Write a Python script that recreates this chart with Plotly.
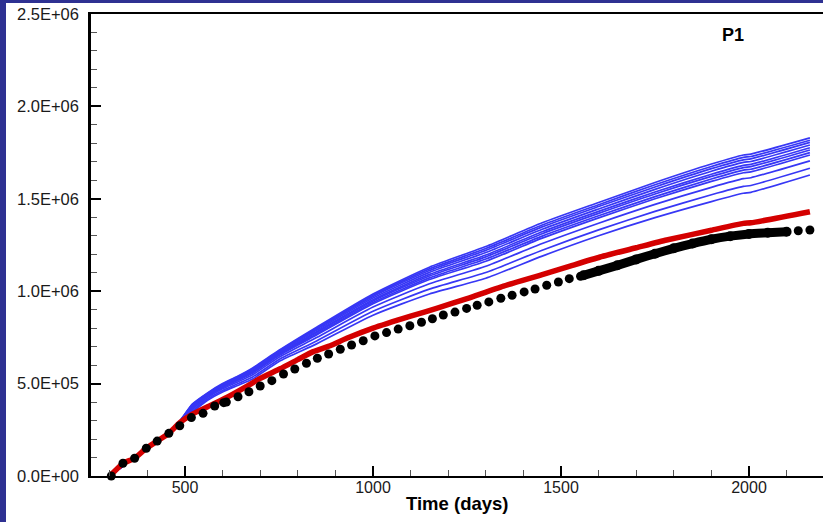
import plotly.graph_objects as go

# ---------------- data (values in thousands) ----------------
SCALE = 1000

obs_days = [304, 335, 366, 397, 426, 457, 486, 517, 548, 579, 603, 610, 641, 670, 700,
            731, 762, 792, 823, 852, 882, 913, 943, 974, 1005, 1036, 1067, 1098, 1129,
            1158, 1187, 1218, 1249, 1277, 1308, 1340, 1370, 1402, 1431, 1462, 1493,
            1522, 1552, 2131, 2162]
obs_vals = [0, 69, 96, 150, 189, 231, 272, 316, 339, 379, 397, 400, 429, 456, 487,
            516, 552, 579, 610, 637, 660, 686, 709, 732, 758, 776, 795, 813, 832,
            851, 871, 887, 907, 924, 942, 962, 978, 996, 1012, 1032, 1050,
            1068, 1081, 1327, 1331]

dense_days = [1560, 1600, 1650, 1700, 1750, 1800, 1850, 1900, 1950, 2000, 2050, 2100]
dense_vals = [1086, 1110, 1140, 1172, 1203, 1232, 1258, 1281, 1298, 1310, 1316, 1322]

red_days = [300, 335, 366, 397, 426, 457, 487, 520, 560, 611, 664, 700, 753, 800, 841,
            886, 930, 1000, 1100, 1169, 1250, 1347, 1450, 1524, 1604, 1700, 1781, 1900,
            1985, 2005, 2162]
red_vals = [0, 68, 96, 150, 189, 231, 290, 335, 375, 425, 485, 528, 580, 630, 673,
            705, 745, 800, 865, 907, 960, 1028, 1090, 1136, 1185, 1235, 1277, 1330,
            1367, 1370, 1430]

blue_days = [300, 397, 457, 487, 520, 560, 600, 640, 680, 750, 850, 1000, 1150, 1300,
             1450, 1600, 1750, 1900, 1985, 2005, 2162]
blue_1 = [0, 150, 235, 300, 390, 450, 500, 540, 585, 680, 805, 985, 1130, 1242, 1370, 1480, 1588, 1688, 1737, 1742, 1830]
blue_2 = [0, 150, 235, 299, 387, 447, 497, 537, 581, 676, 799, 978, 1121, 1231, 1358, 1468, 1576, 1675, 1724, 1729, 1817]
blue_3 = [0, 150, 235, 298, 384, 445, 494, 534, 578, 673, 794, 971, 1112, 1221, 1348, 1458, 1564, 1663, 1711, 1716, 1805]
blue_4 = [0, 150, 234, 297, 381, 442, 491, 530, 573, 668, 788, 963, 1102, 1209, 1335, 1445, 1551, 1649, 1697, 1702, 1791]
blue_5 = [0, 150, 234, 296, 378, 439, 488, 527, 569, 664, 781, 954, 1091, 1196, 1322, 1432, 1537, 1633, 1681, 1686, 1776]
blue_6 = [0, 150, 234, 295, 375, 437, 485, 524, 565, 660, 776, 947, 1082, 1186, 1311, 1421, 1526, 1621, 1669, 1674, 1764]
blue_7 = [0, 150, 234, 294, 372, 434, 482, 520, 561, 656, 769, 939, 1072, 1174, 1298, 1408, 1512, 1607, 1655, 1660, 1750]
blue_8 = [0, 150, 234, 293, 369, 431, 479, 517, 557, 652, 763, 932, 1063, 1162, 1287, 1397, 1500, 1594, 1641, 1646, 1737]
blue_9 = [0, 150, 233, 291, 362, 425, 472, 509, 548, 643, 749, 914, 1040, 1135, 1258, 1368, 1470, 1562, 1609, 1614, 1705]
blue_10 = [0, 150, 233, 288, 353, 417, 463, 499, 536, 631, 731, 891, 1011, 1101, 1222, 1332, 1432, 1522, 1567, 1572, 1665]
blue_11 = [0, 150, 232, 285, 345, 410, 455, 490, 525, 620, 715, 870, 985, 1070, 1190, 1300, 1398, 1485, 1530, 1535, 1629]
blue_series = [blue_1, blue_2, blue_3, blue_4, blue_5, blue_6, blue_7, blue_8,
               blue_9, blue_10, blue_11]

x_tickvals = [500, 1000, 1500, 2000]
x_ticktext = ["500", "1000", "1500", "2000"]
y_tickvals = [0, 500000, 1000000, 1500000, 2000000, 2500000]
y_ticktext = ["0.0E+00", "5.0E+05", "1.0E+06", "1.5E+06", "2.0E+06", "2.5E+06"]

x_title = "Time (days)"
panel_label = "P1"

# ---------------- figure ----------------
FONT = "Liberation Sans, Arial, Helvetica, sans-serif"
BLUE = "rgb(55,55,245)"
RED = "rgb(212,0,0)"
BORDER = "#2e3192"

W, H = 823, 522
ML, MR, MT, MB = 91, 0, 14, 46
PW, PH = W - ML - MR, H - MT - MB

fig = go.Figure()

for vals in blue_series:
    fig.add_trace(go.Scatter(
        x=blue_days, y=[v * SCALE for v in vals], mode="lines",
        line=dict(color=BLUE, width=1.7, shape="spline", smoothing=0.6),
        hoverinfo="skip", showlegend=False))

fig.add_trace(go.Scatter(
    x=red_days, y=[v * SCALE for v in red_vals], mode="lines",
    line=dict(color=RED, width=5.5, shape="spline", smoothing=0.5),
    showlegend=False))

fig.add_trace(go.Scatter(
    x=dense_days, y=[v * SCALE for v in dense_vals], mode="lines+markers",
    line=dict(color="black", width=9, shape="spline", smoothing=0.6),
    marker=dict(color="black", size=10), cliponaxis=False, showlegend=False))

fig.add_trace(go.Scatter(
    x=obs_days, y=[v * SCALE for v in obs_vals], mode="markers",
    marker=dict(color="black", size=9), cliponaxis=False, showlegend=False))

x_range = [250, 250 + PW / 0.376]

fig.update_layout(
    width=W, height=H,
    margin=dict(l=ML, r=MR, t=MT, b=MB, pad=0, autoexpand=False),
    paper_bgcolor="white", plot_bgcolor="white",
    font=dict(family=FONT, size=16, color="#1a1a1a"),
    xaxis=dict(
        range=x_range, showgrid=False, zeroline=False, automargin=False,
        showline=True, linecolor="black", linewidth=2, mirror=True,
        tickmode="array", tickvals=x_tickvals, ticktext=x_ticktext,
        ticks="inside", ticklen=10, tickwidth=2, tickcolor="black",
        ticklabelstandoff=-4,
        minor=dict(ticks="inside", dtick=100, ticklen=6, tickwidth=1,
                   tickcolor="#555", showgrid=False),
        tickfont=dict(family=FONT, size=16, color="#1a1a1a"),
    ),
    yaxis=dict(
        range=[0, 2500000], showgrid=False, zeroline=False, automargin=False,
        showline=True, linecolor="black", linewidth=2.5, mirror=False,
        tickmode="array", tickvals=y_tickvals, ticktext=y_ticktext,
        ticks="inside", ticklen=10, tickwidth=2, tickcolor="black",
        ticklabelstandoff=6,
        minor=dict(ticks="inside", dtick=100000, ticklen=6, tickwidth=1,
                   tickcolor="#555", showgrid=False),
        tickfont=dict(family=FONT, size=16.5, color="#1a1a1a"),
    ),
    annotations=[
        dict(text="<b>" + x_title + "</b>", xref="paper", yref="paper",
             x=0.5, y=-(503 - (MT + PH)) / PH, xanchor="center", yanchor="middle",
             showarrow=False, font=dict(family=FONT, size=18.5, color="black")),
        dict(text="<b>" + panel_label + "</b>", xref="paper", yref="paper",
             x=(733 - ML) / PW, y=(MT + PH - 35) / PH, xanchor="center",
             yanchor="middle", showarrow=False,
             font=dict(family=FONT, size=18, color="black")),
    ],
    shapes=[
        dict(type="rect", xref="paper", yref="paper", layer="above",
             x0=-ML / PW, x1=-(ML - 6) / PW, y0=-MB / PH, y1=(PH + MT) / PH,
             fillcolor=BORDER, line=dict(width=0)),
        dict(type="rect", xref="paper", yref="paper", layer="above",
             x0=-ML / PW, x1=(W - ML) / PW, y0=(PH + MT - 3) / PH, y1=(PH + MT) / PH,
             fillcolor=BORDER, line=dict(width=0)),
    ],
)

fig.write_html("out.html", config={"displayModeBar": False},
               post_script="document.body.style.margin='0';document.body.style.overflow='hidden';")
